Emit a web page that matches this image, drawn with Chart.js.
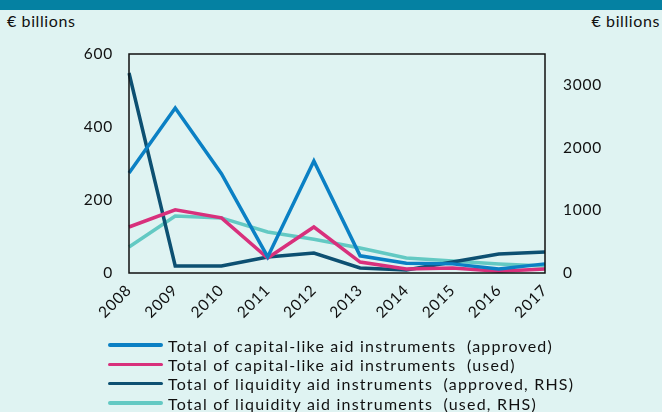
<!DOCTYPE html>
<html><head><meta charset="utf-8">
<script src="https://cdn.jsdelivr.net/npm/chart.js@4"></script>
<style>
html,body{margin:0;padding:0;}
body{width:662px;height:412px;background:#dff3f2;position:relative;overflow:hidden;font-family:Lato,"Open Sans",sans-serif;}
#band{position:absolute;left:0;top:0;width:662px;height:10px;background:#0581a2;}
.unit{position:absolute;top:11px;font-size:16px;color:#111;letter-spacing:0.6px;}
#chartWrap{position:absolute;left:0;top:0;width:662px;height:412px;}
#legend{position:absolute;left:108px;top:335.5px;font-size:16px;color:#111;}
.li{height:19.3px;display:flex;align-items:center;white-space:pre;letter-spacing:1.2px;}
.sw{width:55px;height:3.5px;border-radius:2px;margin-right:5px;}
</style></head>
<body>
<div id="band"></div>
<div class="unit" style="left:7px">€ billions</div>
<div class="unit" style="right:2px">€ billions</div>
<div id="chartWrap"><canvas id="c" width="662" height="412"></canvas></div>
<div id="legend"></div>
<script>
const categories = ["2008","2009","2010","2011","2012","2013","2014","2015","2016","2017"];
const capitalApproved = [274, 452, 272, 44, 307, 47, 27, 25, 11, 25];
const capitalUsed = [126, 173, 151, 41, 126, 30, 11, 14, 5, 11];
const liquidityApproved = [3196, 112, 112, 256, 320, 80, 48, 176, 304, 336];
const liquidityUsed = [415, 910, 880, 655, 540, 400, 240, 192, 144, 112];
const leftTicks = [0, 200, 400, 600];
const rightTicks = [0, 1000, 2000, 3000];

const labels = [
  "Total of capital-like aid instruments  (approved)",
  "Total of capital-like aid instruments  (used)",
  "Total of liquidity aid instruments  (approved, RHS)",
  "Total of liquidity aid instruments  (used, RHS)"
];
const colors = ["#0b80c4", "#d8307c", "#0d5072", "#63c9c3"];

const boxPlugin = {
  id: 'box',
  beforeDraw(chart) { try { chart.ctx.letterSpacing = '0.8px'; } catch (e) {} },
  afterDatasetsDraw(chart) {
    const a = chart.chartArea, ctx = chart.ctx;
    ctx.save();
    ctx.strokeStyle = '#111';
    ctx.lineWidth = 1.5;
    ctx.strokeRect(a.left, a.top, a.right - a.left, a.bottom - a.top);
    ctx.restore();
  }
};

const font = {family: 'Lato, "Open Sans", sans-serif', size: 15.5};
new Chart(document.getElementById('c'), {
  type: 'line',
  data: {
    labels: categories,
    datasets: [
      {label: labels[0], data: capitalApproved, yAxisID: 'y', borderColor: colors[0]},
      {label: labels[1], data: capitalUsed, yAxisID: 'y', borderColor: colors[1]},
      {label: labels[2], data: liquidityApproved, yAxisID: 'y1', borderColor: colors[2]},
      {label: labels[3], data: liquidityUsed, yAxisID: 'y1', borderColor: colors[3]}
    ].map(d => Object.assign(d, {borderWidth: 3.5, pointRadius: 0, tension: 0, fill: false, borderCapStyle: 'butt', borderJoinStyle: 'miter'}))
  },
  options: {
    responsive: false,
    animation: false,
    layout: {padding: {top: 54, left: 0, right: 0, bottom: 0}},
    plugins: {legend: {display: false}, tooltip: {enabled: false}},
    scales: {
      x: {
        offset: false,
        grid: {display: false, drawTicks: false},
        border: {display: false},
        ticks: {font, color: '#111', maxRotation: 45, minRotation: 45, padding: 8, autoSkip: false},
        afterFit(s) { s.height = 412 - 273; }
      },
      y: {
        position: 'left', min: 0, max: 600,
        grid: {display: false, drawTicks: false},
        border: {display: false},
        afterBuildTicks(s) { s.ticks = leftTicks.map(v => ({value: v})); },
        ticks: {font, color: '#111', padding: 16, callback: v => String(v)},
        afterFit(s) { s.width = 129; }
      },
      y1: {
        position: 'right', min: 0, max: 3500,
        grid: {display: false, drawTicks: false},
        border: {display: false},
        afterBuildTicks(s) { s.ticks = rightTicks.map(v => ({value: v})); },
        ticks: {font, color: '#111', padding: 18, callback: v => String(v)},
        afterFit(s) { s.width = 662 - 545; }
      }
    }
  },
  plugins: [boxPlugin]
});

const lg = document.getElementById('legend');
labels.forEach((t, i) => {
  const row = document.createElement('div');
  row.className = 'li';
  const sw = document.createElement('span');
  sw.className = 'sw';
  sw.style.background = colors[i];
  const tx = document.createElement('span');
  tx.textContent = t;
  row.appendChild(sw); row.appendChild(tx);
  lg.appendChild(row);
});
</script>
</body></html>
